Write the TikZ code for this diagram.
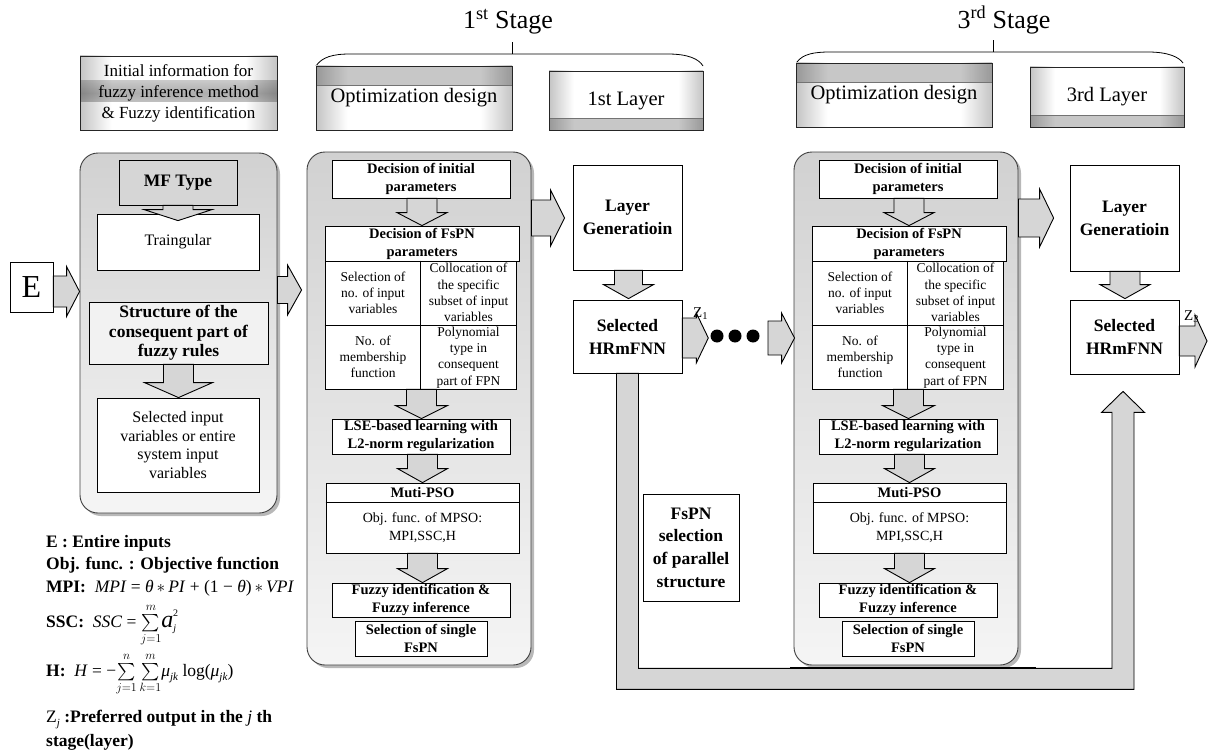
\documentclass[tikz,border=0pt]{standalone}
\usepackage{amsmath}
\usepackage{fontspec}
\setmainfont{Liberation Serif}
\usetikzlibrary{calc,shadows,fadings}
\pgfdeclarehorizontalshading{hdrshade}{100bp}{color(0bp)=(black!85); color(14bp)=(black!55); color(33bp)=(white); color(67bp)=(white); color(86bp)=(black!55); color(100bp)=(black!85)}
\tikzfading[name=bandfade, top color=transparent!100, bottom color=transparent!100, middle color=transparent!68]
\newcommand{\DArrow}[7]{%
 \coordinate (das) at ($(#1.south)+(#3,0)$);
 \coordinate (dat) at ($(das |- #2.north)+(0,#7)$);
 \filldraw[blockarr] ($(das)+(-#4,0)$) -- ($(das)+(#4,0)$) -- ($(dat)+(#4,-#6)$) -- ($(dat)+(#5,-#6)$) -- (dat) -- ($(dat)+(-#5,-#6)$) -- ($(dat)+(-#4,-#6)$) -- cycle;}
\newcommand{\RArrow}[7]{%
 \coordinate (ras) at (#1 |- 0,#3);
 \coordinate (rat) at ($(#2 |- 0,#3)+(#7,0)$);
 \filldraw[blockarr] ($(ras)+(0,-#4)$) -- ($(rat)+(-#6,-#4)$) -- ($(rat)+(-#6,-#5)$) -- (rat) -- ($(rat)+(-#6,#5)$) -- ($(rat)+(-#6,#4)$) -- ($(ras)+(0,#4)$) -- cycle;}
\tikzset{
 box/.style={draw, line width=0.8pt, fill=white, inner sep=0pt, align=center},
 bfont/.style={font=\bfseries\fontsize{14.5}{18}\selectfont},
 nfont/.style={font=\fontsize{13.5}{16.3}\selectfont, align=center, inner sep=0pt},
 bigb/.style={font=\bfseries\fontsize{17.5}{23}\selectfont},
 blockarr/.style={draw, line width=0.9pt, fill=black!16, line join=miter},
 panel/.style={draw=black!75, line width=0.9pt, rounded corners=18pt, top color=black!18, bottom color=black!4,
   drop shadow={shadow xshift=3pt, shadow yshift=-3pt, fill=black!55, opacity=.5}},
 hdr/.style={draw=black!85, line width=0.8pt, inner sep=0pt, align=center, shade, shading=hdrshade, font=\fontsize{20.5}{22}\selectfont},
 topband/.style={path picture={\fill[black, opacity=.22] (path picture bounding box.north west) rectangle ([yshift=-19pt]path picture bounding box.north east);
   \draw[black!55, line width=1pt] ([yshift=-19pt]path picture bounding box.north west) -- ([yshift=-19pt]path picture bounding box.north east);}},
 botband/.style={path picture={\fill[black, opacity=.22] (path picture bounding box.south west) rectangle ([yshift=12pt]path picture bounding box.south east);
   \draw[black!55, line width=1pt] ([yshift=12pt]path picture bounding box.south west) -- ([yshift=12pt]path picture bounding box.south east);}},
 brace/.style={line width=0.8pt},
 legend/.style={anchor=west, inner sep=0pt, font=\bfseries\fontsize{17.5}{20}\selectfont},
 zlab/.style={inner sep=0pt, font=\fontsize{15}{15}\selectfont},
 dot/.style={circle, fill=black, minimum size=13pt, inner sep=0pt},
}
\newcommand{\StageBody}[2]{%
 \node[panel, minimum width=224pt, minimum height=513pt] (panel#2) at (#1+419,408.5) {};
 \node[box, bfont, minimum width=178pt, minimum height=38pt] (init#2) at (#1+421,179) {Decision of initial\\parameters};
 \node[box, bfont, minimum width=194pt, minimum height=35pt] (fspn#2) at (#1+422,243.5) {Decision of FsPN\\parameters};
 \node[box, minimum width=191pt, minimum height=128pt] (grid#2) at (#1+420.5,325) {};
 \draw[line width=0.8pt] (grid#2.north) -- (grid#2.south) (grid#2.west) -- (grid#2.east);
 \node[nfont] (ca#2) at (#1+373,293) {Selection of\\no. of input\\variables};
 \node[nfont] (cb#2) at (#1+468.5,292.5) {Collocation of\\the specific\\subset of input\\variables};
 \node[nfont] (cc#2) at (#1+373,357) {No. of\\membership\\function};
 \node[nfont] (cd#2) at (#1+468.5,357.5) {Polynomial\\type in\\consequent\\part of FPN};
 \node[box, bfont, minimum width=178pt, minimum height=35pt] (lse#2) at (#1+421,436.5) {LSE-based learning with\\L2-norm regularization};
 \node[box, minimum width=193pt, minimum height=70pt] (pso#2) at (#1+422.5,518) {};
 \draw[line width=0.8pt] ($(pso#2.north west)+(0,20)$) -- ($(pso#2.north east)+(0,20)$);
 \node[bfont, inner sep=0pt] (psot#2) at (#1+422.5,493) {Muti-PSO};
 \node[nfont, font=\fontsize{14}{18}\selectfont] (psob#2) at (#1+422.5,528) {Obj. func. of MPSO:\\MPI,SSC,H};
 \node[box, bfont, minimum width=178pt, minimum height=34pt] (fz#2) at (#1+421,600) {Fuzzy identification \&\\Fuzzy inference};
 \node[box, bfont, minimum width=132pt, minimum height=35pt] (ss#2) at (#1+421,638.5) {Selection of single\\FsPN};
 \DArrow{init#2}{fspn#2}{1}{15}{25}{13}{0}
 \DArrow{grid#2}{lse#2}{1}{15}{26}{13}{0}
 \DArrow{lse#2}{pso#2}{1.5}{15}{25}{14}{0}
 \DArrow{pso#2}{fz#2}{0}{15}{25}{14}{0}
}
\begin{document}
\begin{tikzpicture}[x=1pt, y=-1pt]
\useasboundingbox (0,0) rectangle (1210,752);
\fill[white] (0,0) rectangle (1210,752);

% stage titles and braces
\node[font=\fontsize{26}{28}\selectfont, inner sep=0pt] (stA) at (508,22) {1\textsuperscript{st} Stage};
\node[font=\fontsize{26}{28}\selectfont, inner sep=0pt] (stB) at (1004,20) {3\textsuperscript{rd} Stage};
\draw[brace] (316,66) .. controls (322,57) and (333,54) .. (350,54) -- (668,54) .. controls (688,54) and (699,59) .. (703,66);
\draw[brace] (512,54) -- (512,42);
\draw[brace] (797,62) .. controls (803,54) and (814,52) .. (830,52) -- (1148,52) .. controls (1168,52) and (1179,57) .. (1183,63);
\draw[brace] (993,52) -- (993,40);

% header boxes
\node[hdr, minimum width=197pt, minimum height=74pt, font=\fontsize{17}{21}\selectfont,
  path picture={\fill[black, path fading=bandfade] ([yshift=-24pt]path picture bounding box.north west) rectangle ([yshift=-46pt]path picture bounding box.north east);}]
  (hInit) at (178.5,93) {Initial information for\\fuzzy inference method\\\& Fuzzy identification};
\node[hdr, topband, minimum width=196pt, minimum height=64pt] (optA) at (414,98) {Optimization design};
\node[hdr, botband, minimum width=154pt, minimum height=59pt] (layA) at (626,100.5) {1st Layer};
\node[hdr, topband, minimum width=196pt, minimum height=64pt] (optB) at (894,95) {Optimization design};
\node[hdr, botband, minimum width=154pt, minimum height=60pt] (layB) at (1107,97) {3rd Layer};

% left panel
\node[panel, minimum width=197pt, minimum height=360pt] (panelL) at (178.5,333) {};
\node[box, fill=black!16, font=\bfseries\fontsize{17.5}{20}\selectfont, minimum width=118pt, minimum height=45pt] (mf) at (178,182.5) {MF Type};
\node[box, font=\fontsize{16}{18}\selectfont, minimum width=162pt, minimum height=56pt] (tri) at (178,242) {Traingular};
\node[box, fill=black!5, font=\bfseries\fontsize{17.5}{19.5}\selectfont, minimum width=179pt, minimum height=62pt] (st) at (178.5,333) {Structure of the\\consequent part of\\fuzzy rules};
\node[box, font=\fontsize{16}{18.5}\selectfont, minimum width=162pt, minimum height=94pt] (selin) at (178,445) {Selected input\\variables or entire\\system input\\variables};
\DArrow{mf}{tri}{0}{15}{34}{11}{7}
\DArrow{st}{selin}{0}{15}{34}{15}{0}

% stages
\StageBody{0}{A}
\StageBody{487}{B}

% E input
\node[box, font=\fontsize{32}{34}\selectfont, minimum width=43pt, minimum height=50pt] (E) at (31.5,287) {E};
\RArrow{E.east}{panelL.west}{291.5}{15.5}{25}{13}{0}
\RArrow{panelL.east}{panelA.west}{290}{13.5}{25}{14}{-5}

% layer columns
\node[box, bigb, minimum width=109pt, minimum height=105pt] (lgA) at (627.5,217.5) {Layer\\Generatioin};
\node[box, bigb, minimum width=109pt, minimum height=73pt] (selA) at (627.5,336.5) {Selected\\HRmFNN};
\node[box, bigb, minimum width=109pt, minimum height=106pt] (lgB) at (1124.5,218) {Layer\\Generatioin};
\node[box, bigb, minimum width=109pt, minimum height=74pt] (selB) at (1124.5,337) {Selected\\HRmFNN};
\RArrow{panelA.east}{lgA.west}{218}{18}{28}{14}{-8}
\RArrow{panelB.east}{lgB.west}{218}{19}{29}{14}{-16}
\DArrow{lgA}{selA}{1}{14}{25}{14}{-1}
\DArrow{lgB}{selB}{0.5}{15}{25}{14}{-1}

% continuation
\node[dot] (d1) at (717,336) {};
\node[dot] (d2) at (735,336) {};
\node[dot] (d3) at (753,336) {};
\RArrow{selA.east}{d1.west}{338}{20}{25}{12}{-2}
\node[zlab, anchor=south west] (z1) at (693,320) {Z\textsubscript{1}};
\coordinate (dB) at (768,338);
\RArrow{dB}{panelB.west}{338}{17}{25}{13}{1}
\coordinate (zout) at (1207,341);
\RArrow{selB.east}{zout}{341}{15}{26}{12}{0}
\node[zlab, anchor=south west] (z3) at (1184,323) {Z\textsubscript{3}};

% parallel structure feedback
\node[box, bigb, font=\bfseries\fontsize{17.5}{22.6}\selectfont, minimum width=96pt, minimum height=107pt] (fsel) at (691,547.5) {FsPN\\selection\\of parallel\\structure};
\coordinate (ua) at (selA.south);
\coordinate (ub) at ($(selB.south)+(-1.5,17)$);
\filldraw[blockarr] ($(ua)+(-11,0)$) -- ($(ua)+(-11,316)$) -- ($(ub)+(11,298)$) -- ($(ub)+(11,21)$) -- ($(ub)+(21.5,21)$) -- (ub) -- ($(ub)+(-21.5,21)$) -- ($(ub)+(-11,21)$) -- ($(ub)+(-11,277)$) -- ($(ua)+(11,295)$) -- ($(ua)+(11,0)$) -- cycle;
\draw[line width=2.5pt] (790,668) -- (1036,668);

% legend
\node[legend] (lgE) at (46,543) {E : Entire inputs};
\node[legend] (lgO) at (46,565) {Obj. func. : Objective function};
\node[legend] (lgM) at (46,588) {MPI:\mdseries\ \ \textit{MPI} = \textit{θ}\,$\ast$\,\textit{PI} + (1 − \textit{θ})\,$\ast$\,\textit{VPI}};
\node[legend] (lgS) at (46,625) {SSC:\mdseries\ \ \textit{SSC} = $\sum\limits_{j=1}^{m}$\fontsize{24}{24}\selectfont\textit{a}\raisebox{-4pt}{\fontsize{10}{10}\selectfont\textit{j}}\hspace{-3pt}\raisebox{11pt}{\fontsize{10}{10}\selectfont 2}};
\node[legend] (lgH) at (46,674) {H:\mdseries\ \ \textit{H} = −$\sum\limits_{j=1}^{n}\sum\limits_{k=1}^{m}$\textit{μ}\raisebox{-4pt}{\fontsize{11}{11}\selectfont\textit{jk}} log(\textit{μ}\raisebox{-4pt}{\fontsize{11}{11}\selectfont\textit{jk}})};
\node[legend] (lgZ) at (46,720) {\mdseries Z\raisebox{-4pt}{\fontsize{11}{11}\selectfont\textit{j}} \bfseries :Preferred output in the \mdseries\textit{j}\bfseries\ th};
\node[legend] (lgZ2) at (46,742) {stage(layer)};
\end{tikzpicture}
\end{document}
